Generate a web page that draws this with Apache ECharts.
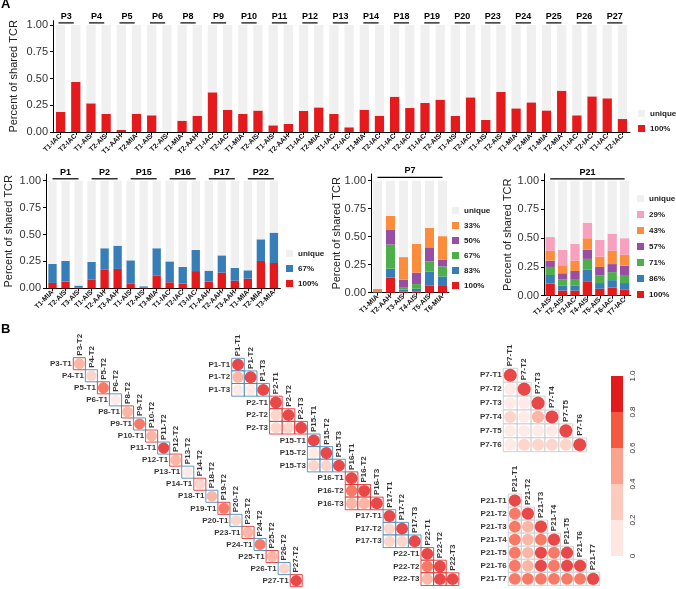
<!DOCTYPE html>
<html><head><meta charset="utf-8">
<script src="https://cdn.jsdelivr.net/npm/echarts@6/dist/echarts.min.js"></script>
<style>html,body{margin:0;padding:0;background:#fff}#c{width:676px;height:589px}</style>
</head><body><div id="c"></div>
<script>
// ===================== DATA: panel A =====================
const topPatients = ['P3','P4','P5','P6','P8','P9','P10','P11','P12','P13','P14','P18','P19','P20','P23','P24','P25','P26','P27'];
const topCategories = ['T1-IAC','T2-IAC','T1-AIS','T2-AIS','T1-AAH','T2-MIA','T1-AIS','T2-AIS','T1-MIA','T2-AAH','T1-IAC','T2-IAC','T1-MIA','T2-AIS','T1-AIS','T2-AAH','T1-IAC','T2-MIA','T1-IAC','T2-IAC','T1-MIA','T2-IAC','T1-IAC','T2-IAC','T1-IAC','T2-AIS','T1-AIS','T2-IAC','T1-AIS','T2-AIS','T1-MIA','T2-MIA','T1-MIA','T2-MIA','T1-IAC','T2-IAC','T1-IAC','T2-IAC'];
const top100 = [0.187,0.467,0.268,0.168,0.019,0.171,0.156,0,0.106,0.150,0.371,0.206,0.168,0.200,0.062,0.075,0.196,0.230,0.168,0.044,0.209,0.153,0.330,0.224,0.271,0.302,0.150,0.324,0.112,0.374,0.221,0.277,0.202,0.386,0.156,0.333,0.315,0.121];

const blPatients = ['P1','P2','P15','P16','P17','P22'];
const blCategories = ['T1-MIA','T2-AIS','T3-AIS','T1-AIS','T2-AAH','T3-AAH','T1-AIS','T2-AIS','T3-MIA','T1-IAC','T2-IAC','T3-IAC','T1-AAH','T2-AAH','T3-AAH','T1-MIA','T2-MIA','T3-MIA'];
const bl100 = [0.050,0.062,0.005,0.080,0.176,0.180,0.046,0.005,0.120,0.056,0.043,0.160,0.062,0.146,0.071,0.090,0.254,0.235];
const bl67  = [0.176,0.192,0.020,0.165,0.196,0.216,0.214,0.014,0.252,0.194,0.155,0.196,0.102,0.160,0.118,0.077,0.201,0.282];

const p7Patients = ['P7'];
const p7Categories = ['T1-MIA','T2-AAH','T3-AIS','T4-AIS','T5-AIS','T6-MIA'];
const p7_100 = [0.000,0.134,0.010,0.012,0.065,0.060];
const p7_83  = [0.005,0.080,0.017,0.023,0.125,0.085];
const p7_67  = [0.000,0.216,0.023,0.042,0.090,0.090];
const p7_50  = [0.000,0.135,0.066,0.103,0.125,0.060];
const p7_33  = [0.028,0.120,0.202,0.255,0.175,0.210];

const p21Patients = ['P21'];
const p21Categories = ['T1-AIS','T2-AIS','T3-IAC','T4-AIS','T5-AIS','T6-IAC','T7-IAC'];
const p21_100 = [0.105,0.045,0.045,0.125,0.060,0.070,0.055];
const p21_86  = [0.075,0.045,0.045,0.100,0.050,0.065,0.055];
const p21_71  = [0.070,0.050,0.055,0.095,0.065,0.070,0.070];
const p21_57  = [0.055,0.055,0.070,0.080,0.075,0.070,0.080];
const p21_43  = [0.085,0.070,0.090,0.100,0.090,0.115,0.095];
const p21_29  = [0.120,0.135,0.145,0.135,0.145,0.150,0.145];

const yTickValues = [0, 0.25, 0.5, 0.75, 1];

// ===================== DATA: panel B =====================
const pairPatients = ['P3','P4','P5','P6','P8','P9','P10','P11','P12','P13','P14','P18','P19','P20','P23','P24','P25','P26','P27'];
const pairValues   = [0.5,0.3,0.7,0.1,0.5,0.7,0.5,0.9,0.5,0.1,0.3,0.5,0.7,0.3,0.5,0.7,0.5,0.3,0.9];
const triPatients = ['P1','P2','P15','P16','P17','P22'];
// lower-triangle values per patient: (T2,T1), (T3,T1), (T3,T2)
const triValues = [[0.5,0.1,0.1],[0.3,0.3,0.3],[0.1,0.3,0.3],[0.7,0.5,0.5],[0.3,0.3,0.3],[0.7,0.5,0.9]];
const p7Corr = [[1],[0.1,1],[0.1,0.1,1],[0.3,0.1,0.5,1],[0.1,0.1,0.1,0.1,1],[0.1,0.3,0.3,0.3,0.3,1]];
const p21Corr = [[1],[0.7,1],[0.7,0.5,1],[0.7,0.5,0.7,1],[0.7,0.5,0.9,0.7,1],[0.7,0.5,0.9,0.7,0.9,1],[0.7,0.7,0.7,0.7,0.7,0.7,1]];
const colorBreaks = [0, 0.2, 0.4, 0.6, 0.8, 1.0];
const colorTickLabels = ['0','0.2','0.4','0.6','0.8','1.0'];

// ===================== STYLE =====================
const FONT = "'Liberation Sans', Arial, Helvetica, sans-serif";
const RED='#e41a1c', BLUE='#377eb8', GREEN='#4daf4a', PURPLE='#984ea3', ORANGE='#fd8d3c', PINK='#f7a1bf', GRAY='#f0f0f0';
const CELL_GREY = '#c8c8c8';
const corrColors = ['#fee6e1','#fdcabe','#fca38f','#f6583f','#e31a1c'];
function corrColor(v){ for (let k=0;k<corrColors.length;k++){ if (v <= colorBreaks[k+1]) return corrColors[k]; } return corrColors[corrColors.length-1]; }

const grids=[], xAxes=[], yAxes=[], series=[], legends=[];

function addBarPanel(box, groups, cats, layers, legendItems) {
  const gi = grids.length;
  grids.push({left:box.left, top:box.top, width:box.width, height:box.height});
  xAxes.push({gridIndex:gi, type:'category', data:cats,
    axisLine:{show:true, onZero:false, lineStyle:{color:'#000', width:1}},
    axisTick:{show:true, alignWithLabel:true, length:3, lineStyle:{color:'#000'}},
    axisLabel:{interval:0, rotate:45, fontSize:7, fontWeight:'bold', color:'#111', margin:3, fontFamily:FONT},
    splitLine:{show:false}});
  yAxes.push({gridIndex:gi, type:'value', min:0, max:box.ymax,
    name:'Percent of shared TCR', nameLocation:'middle', nameGap:box.nameGap, nameMoveOverlap:false,
    nameTextStyle:{fontSize:11, color:'#222', fontFamily:FONT},
    axisLine:{show:true, lineStyle:{color:'#000'}},
    axisTick:{show:true, length:3, lineStyle:{color:'#000'}, customValues:yTickValues},
    axisLabel:{fontSize:11, color:'#333', margin:5, fontFamily:FONT, customValues:yTickValues, formatter:v=>v.toFixed(2)},
    splitLine:{show:false}});
  const totals = cats.map((_, i) => layers.reduce((s,l)=>s+l.data[i],0));
  const all = layers.concat([{name:'unique', data: totals.map(t=>Math.max(0, 1-t)), color: GRAY}]);
  all.forEach(l => series.push({type:'bar', name:l.name, xAxisIndex:gi, yAxisIndex:gi, stack:'s'+gi,
    barWidth:box.barWidth, data:l.data, itemStyle:{color:l.color}, silent:true}));
  // patient header with underline
  const hi = grids.length;
  grids.push({left:box.left, top:box.lineY, width:box.width, height:1.2});
  xAxes.push({gridIndex:hi, type:'category', data:groups, position:'top',
    axisLine:{show:false}, axisTick:{show:false},
    axisLabel:{interval:0, fontSize:9, fontWeight:'bold', color:'#000', margin:1.5, fontFamily:FONT}});
  yAxes.push({gridIndex:hi, type:'value', min:0, max:1, show:false});
  series.push({type:'bar', xAxisIndex:hi, yAxisIndex:hi, barWidth:box.lineWidth,
    data: groups.map(()=>1), itemStyle:{color:'#000'}, silent:true});
  legends.push({left:box.legendLeft, top:box.legendTop, orient:'vertical', padding:0,
    itemWidth:7, itemHeight:7, itemGap:box.legendGap, icon:'rect', selectedMode:false,
    textStyle:{fontSize:8, fontWeight:'bold', color:'#1a1a1a', fontFamily:FONT, lineHeight:8},
    data: legendItems.map(it=>({name:it[0], itemStyle:{color:it[1], borderWidth:0}}))});
}

addBarPanel({left:50.9, top:20.7, width:579.1, height:111.3, ymax:1.04, nameGap:34, barWidth:'61%',
  lineY:22.3, lineWidth:'50%', legendLeft:638, legendTop:109.5, legendGap:7},
  topPatients, topCategories, [{name:'100%', data:top100, color:RED}],
  [['unique',GRAY],['100%',RED]]);

addBarPanel({left:46, top:174.2, width:234.4, height:114.1, ymax:1.06, nameGap:32, barWidth:'64%',
  lineY:178.2, lineWidth:'66.7%', legendLeft:286, legendTop:249.5, legendGap:7},
  blPatients, blCategories, [{name:'100%', data:bl100, color:RED},{name:'67%', data:bl67, color:BLUE}],
  [['unique',GRAY],['67%',BLUE],['100%',RED]]);

addBarPanel({left:371, top:174, width:78, height:118.7, ymax:1.06, nameGap:29, barWidth:'69%',
  lineY:176.8, lineWidth:'83.3%', legendLeft:452, legendTop:206.5, legendGap:7},
  p7Patients, p7Categories,
  [{name:'100%', data:p7_100, color:RED},{name:'83%', data:p7_83, color:BLUE},{name:'67%', data:p7_67, color:GREEN},
   {name:'50%', data:p7_50, color:PURPLE},{name:'33%', data:p7_33, color:ORANGE}],
  [['unique',GRAY],['33%',ORANGE],['50%',PURPLE],['67%',GREEN],['83%',BLUE],['100%',RED]]);

addBarPanel({left:544, top:173.8, width:86.8, height:121.9, ymax:1.06, nameGap:31, barWidth:'75%',
  lineY:178.2, lineWidth:'85.7%', legendLeft:637, legendTop:194.5, legendGap:8},
  p21Patients, p21Categories,
  [{name:'100%', data:p21_100, color:RED},{name:'86%', data:p21_86, color:BLUE},{name:'71%', data:p21_71, color:GREEN},
   {name:'57%', data:p21_57, color:PURPLE},{name:'43%', data:p21_43, color:ORANGE},{name:'29%', data:p21_29, color:PINK}],
  [['unique',GRAY],['29%',PINK],['43%',ORANGE],['57%',PURPLE],['71%',GREEN],['86%',BLUE],['100%',RED]]);

// ===================== panel B =====================
function addCorrGrid(left, top, cell, n) {
  const gi = grids.length;
  grids.push({left:left, top:top, width:n*cell, height:n*cell});
  xAxes.push({gridIndex:gi, type:'value', min:-0.5, max:n-0.5, show:false});
  yAxes.push({gridIndex:gi, type:'value', min:-0.5, max:n-0.5, inverse:true, show:false});
  return gi;
}
function addCorrSeries(gi, cell, cells, rowLabels, colLabels) {
  const lab = {fontSize:8, fontWeight:'bold', color:'#000', fontFamily:FONT};
  series.push({type:'scatter', xAxisIndex:gi, yAxisIndex:gi, symbol:'rect', symbolSize:cell, silent:true, z:2,
    data: cells.map(c=>({value:[c.x,c.y], itemStyle:{color:'#fff', borderColor:c.border, borderWidth:1}}))});
  series.push({type:'scatter', xAxisIndex:gi, yAxisIndex:gi, symbol:'circle', silent:true, z:3,
    symbolSize: v => cell*(0.84+0.1*v[2]),
    data: cells.map(c=>({value:[c.x,c.y,c.v], itemStyle:{color:corrColor(c.v)}}))});
  series.push({type:'scatter', xAxisIndex:gi, yAxisIndex:gi, symbol:'rect', symbolSize:cell, silent:true, z:4,
    itemStyle:{color:'rgba(0,0,0,0)'},
    label:Object.assign({show:true, position:'left', distance:1.5, formatter:'{b}'}, lab),
    data: rowLabels.map(r=>({name:r.name, value:[r.x,r.y]}))});
  series.push({type:'scatter', xAxisIndex:gi, yAxisIndex:gi, symbol:'rect', symbolSize:cell, silent:true, z:4,
    itemStyle:{color:'rgba(0,0,0,0)'},
    label:Object.assign({show:true, position:'top', distance:2, rotate:90, align:'left', verticalAlign:'middle', formatter:'{b}'}, lab),
    data: colLabels.map(r=>({name:r.name, value:[r.x,r.y]}))});
}

// chain of two-lesion patients
(function(){
  const cell = 12.05, n = pairPatients.length;
  const gi = addCorrGrid(73.3, 357.7, cell, n);
  const cells=[], rows=[], cols=[];
  pairPatients.forEach((p,i)=>{
    cells.push({x:i, y:i, v:pairValues[i], border: i%2===0 ? RED : BLUE});
    rows.push({name:p+'-T1', x:i, y:i});
    cols.push({name:p+'-T2', x:i, y:i});
  });
  addCorrSeries(gi, cell, cells, rows, cols);
})();

// chain of three-lesion patients
(function(){
  const cell = 12.62, n = triPatients.length*3;
  const gi = addCorrGrid(231.7, 358.3, cell, n);
  const cells=[], rows=[], cols=[];
  triPatients.forEach((p,b)=>{
    const base = 3*b, border = b%2===0 ? BLUE : RED;
    let k = 0;
    for (let r=0;r<3;r++){
      for (let c=0;c<r;c++){ cells.push({x:base+c, y:base+r, v:triValues[b][k++], border}); }
      cells.push({x:base+r, y:base+r, v:1, border});
      rows.push({name:p+'-T'+(r+1), x:base, y:base+r});
      cols.push({name:p+'-T'+(r+1), x:base+r, y:base+r});
    }
  });
  addCorrSeries(gi, cell, cells, rows, cols);
})();

function addMatrix(pname, mat, left, top, cell) {
  const n = mat.length;
  const gi = addCorrGrid(left, top, cell, n);
  const cells=[], rows=[], cols=[];
  mat.forEach((row,r)=>{
    row.forEach((v,c)=>cells.push({x:c, y:r, v, border:CELL_GREY}));
    rows.push({name:pname+'-T'+(r+1), x:0, y:r});
    cols.push({name:pname+'-T'+(r+1), x:r, y:r});
  });
  addCorrSeries(gi, cell, cells, rows, cols);
}
addMatrix('P7', p7Corr, 503.3, 368.3, 13.9);
addMatrix('P21', p21Corr, 508.3, 494, 13.05);

// colour bar
(function(){
  const ci = grids.length;
  grids.push({left:611, top:376, width:12, height:180});
  xAxes.push({gridIndex:ci, type:'category', data:['scale'], show:false});
  yAxes.push({gridIndex:ci, type:'value', min:0, max:1, interval:0.2, position:'right',
    axisLine:{show:false}, axisTick:{show:false}, splitLine:{show:false},
    axisLabel:{rotate:90, fontSize:8, color:'#333', margin:6, fontFamily:FONT,
      formatter: v => colorTickLabels[Math.round(v*5)]}});
  colorBreaks.slice(1).forEach((b,k)=> series.push({type:'bar', xAxisIndex:ci, yAxisIndex:ci, stack:'cb',
    barWidth:'100%', data:[b - colorBreaks[k]], itemStyle:{color:corrColors[k]}, silent:true}));
})();

const chart = echarts.init(document.getElementById('c'), null, {renderer:'canvas', width:676, height:589});
chart.setOption({
  animation:false,
  backgroundColor:'#fff',
  textStyle:{fontFamily:FONT},
  title:[
    {text:'A', left:1, top:-2, padding:0, textStyle:{fontSize:13, fontWeight:'bold', color:'#000', fontFamily:FONT}},
    {text:'B', left:1, top:323, padding:0, textStyle:{fontSize:13, fontWeight:'bold', color:'#000', fontFamily:FONT}}
  ],
  legend: legends,
  grid: grids,
  xAxis: xAxes,
  yAxis: yAxes,
  series: series
});
</script></body></html>
